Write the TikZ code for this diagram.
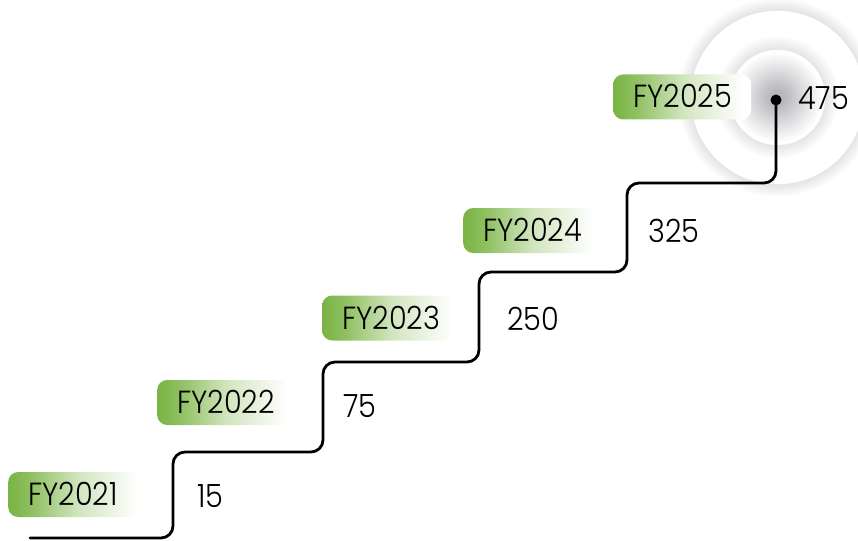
\documentclass[tikz,border=0pt]{standalone}
\usepackage{fontspec}
\setmainfont{Poppins}[UprightFont=* Light, FakeStretch=0.9]
\definecolor{fygreen}{RGB}{122,180,68}
\definecolor{glowc}{RGB}{182,182,187}
\definecolor{ringc}{RGB}{228,228,230}
\pgfdeclarehorizontalshading{labelshade}{100bp}{color(0bp)=(fygreen); color(25bp)=(fygreen); color(33bp)=(fygreen!85!white); color(50bp)=(fygreen!35!white); color(72bp)=(white); color(100bp)=(white)}
\pgfdeclareradialshading{glowshade}{\pgfpoint{0bp}{0bp}}{color(0bp)=(glowc); color(1.5bp)=(glowc); color(11.25bp)=(white); color(11.8bp)=(white); color(11.9bp)=(ringc); color(15.5bp)=(white); color(21.6bp)=(white); color(21.8bp)=(ringc); color(25bp)=(white); color(50bp)=(white)}
\begin{document}
\begin{tikzpicture}[x=1pt,y=-1pt,
  txt/.style={font=\fontsize{32}{38}\selectfont, text=black},
  fylabel/.style={txt, shading=labelshade, rounded corners=10pt, anchor=west,
    minimum height=45pt, text width=98pt, align=left, inner xsep=20pt, inner ysep=0pt,
    text height=22pt, text depth=0pt},
  value/.style={txt, anchor=base west, inner sep=0pt},
  stair/.style={line width=2.8pt, rounded corners=12pt, line cap=round},
  enddot/.style={circle, fill=black, inner sep=0pt, minimum size=11pt}]
\useasboundingbox (0,0) rectangle (858,540);
\shade[shading=glowshade] (777,97) circle[radius=100];
% labels
\node[fylabel] (l1) at (8,494.5) {FY2021};
\node[fylabel] (l2) at (157,402.5) {FY2022};
\node[fylabel] (l3) at (322,318) {FY2023};
\node[fylabel] (l4) at (463,230.5) {FY2024};
\node[fylabel] (l5) at (613,97) {FY2025};
% values
\node[value] (v1) at (197,507) {15};
\node[value] (v2) at (343,417) {75};
\node[value] (v3) at (507,330) {250};
\node[value] (v4) at (648,242) {325};
\node[value] (v5) at (798,110) {475};
% stair line
\coordinate (start) at (30,538);
\node[enddot] (dot) at (776,100) {};
\draw[stair] (start) -- (173,538) -- (173,452) -- (323,452) -- (323,362) -- (479,362) -- (479,272) -- (627,272) -- (627,183) -- (776,183) -- (dot.center);
\end{tikzpicture}
\end{document}
